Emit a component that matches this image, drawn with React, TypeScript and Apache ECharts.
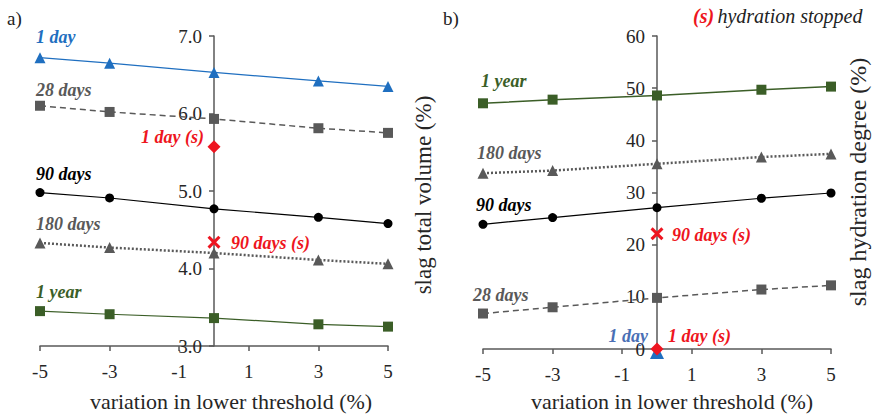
import React, { useEffect, useRef } from 'react';
import * as echarts from 'echarts';

// x positions (variation in lower threshold, %)
const thresholdVariation = [-5, -3, 0, 3, 5];
const xTickMin = -5;
const xTickMax = 5;

// panel a) slag total volume (%)
const volume1Day = [6.72, 6.65, 6.53, 6.42, 6.35];
const volume28Days = [6.1, 6.02, 5.93, 5.81, 5.75];
const volume90Days = [4.98, 4.91, 4.77, 4.66, 4.58];
const volume180Days = [4.33, 4.27, 4.2, 4.11, 4.06];
const volume1Year = [3.45, 3.41, 3.36, 3.28, 3.25];
const volume1DayStopped = 5.57;
const volume90DaysStopped = 4.34;

// panel b) slag hydration degree (%)
const degree1Year = [47.1, 47.8, 48.6, 49.7, 50.3];
const degree180Days = [33.7, 34.2, 35.5, 36.8, 37.4];
const degree90Days = [23.9, 25.2, 27.1, 28.9, 29.9];
const degree28Days = [6.8, 8.0, 9.8, 11.4, 12.2];
const degree1Day = 0;
const degree1DayStopped = 0;
const degree90DaysStopped = 22.1;

const SERIF = 'Liberation Serif';
const BLUE = '#1f6fc0';
const GRAY = '#595959';
const GREEN = '#3b5e27';
const RED = '#ee1520';
const CROSS = 'path://M0,2 L2,0 L6,4 L10,0 L12,2 L8,6 L12,10 L10,12 L6,8 L2,12 L0,10 L4,6 Z';
const GRID_W = 348;

function lbl(text: string, color: string, dx: number, dy: number, align: string) {
  return {
    show: true,
    formatter: text,
    position: ['50%', '50%'],
    offset: [dx, dy],
    align,
    verticalAlign: 'middle',
    color,
    fontFamily: SERIF,
    fontSize: 18,
    fontStyle: 'italic',
    fontWeight: 'bold',
  };
}

function seriesData(values: number[], label: any) {
  return values.map((v, i) => {
    const item: any = { value: [thresholdVariation[i], v] };
    if (i === 0) item.label = label;
    return item;
  });
}

function lineSeries(grid: number, name: string, values: number[], color: string, symbol: string, size: number, lineType: any, width: number, label: any) {
  return {
    type: 'line',
    name,
    xAxisIndex: grid,
    yAxisIndex: grid,
    data: seriesData(values, label),
    symbol,
    symbolSize: size,
    showSymbol: true,
    itemStyle: { color },
    lineStyle: { color, width, type: lineType },
    z: 3,
  };
}

function pointSeries(grid: number, name: string, value: number, color: string, symbol: string, size: number, label: any, z: number, symbolOffset: number[] = [0, 0]) {
  return {
    type: 'line',
    name,
    xAxisIndex: grid,
    yAxisIndex: grid,
    data: [{ value: [0, value], label }],
    symbol,
    symbolSize: size,
    symbolOffset,
    itemStyle: { color },
    lineStyle: { width: 0 },
    z,
  };
}

function xAxisCfg(grid: number) {
  return {
    gridIndex: grid,
    type: 'value',
    min: xTickMin,
    max: xTickMax,
    interval: 2,
    axisLine: { show: true, onZero: false, lineStyle: { color: GRAY, width: 1.5 } },
    axisTick: { show: true, length: 5, lineStyle: { color: GRAY, width: 1.5 } },
    axisLabel: { fontFamily: SERIF, fontSize: 19, color: '#262626', margin: 16 },
    splitLine: { show: false },
  };
}

function yAxisCfg(grid: number, min: number, max: number, interval: number, digits: number) {
  return {
    gridIndex: grid,
    type: 'value',
    position: 'left',
    offset: -GRID_W / 2,
    min,
    max,
    interval,
    axisLine: { show: true, onZero: false, lineStyle: { color: GRAY, width: 1.5 } },
    axisTick: { show: true, length: 5, lineStyle: { color: GRAY, width: 1.5 } },
    axisLabel: {
      fontFamily: SERIF,
      fontSize: 19,
      color: '#262626',
      margin: 12,
      formatter: (v: number) => v.toFixed(digits),
    },
    splitLine: { show: false },
  };
}

export default function App() {
  const ref = useRef<HTMLDivElement>(null);
  useEffect(() => {
    if (!ref.current) return;
    document.body.style.margin = '0';
    const chart = echarts.init(ref.current, null, { renderer: 'svg' });
    chart.setOption({
      animation: false,
      backgroundColor: '#ffffff',
      grid: [
        { left: 40, top: 36, width: GRID_W, height: 310 },
        { left: 483, top: 36, width: GRID_W, height: 313 },
      ],
      xAxis: [xAxisCfg(0), xAxisCfg(1)],
      yAxis: [yAxisCfg(0, 3, 7, 1, 1), yAxisCfg(1, 0, 60, 10, 0)],
      series: [
        lineSeries(0, '1 day', volume1Day, BLUE, 'triangle', 11, 'solid', 1.2, lbl('1 day', BLUE, -4, -21, 'left')),
        lineSeries(0, '28 days', volume28Days, GRAY, 'rect', 10, [6, 4], 1.5, lbl('28 days', GRAY, -4, -16, 'left')),
        lineSeries(0, '90 days', volume90Days, '#000000', 'circle', 9, 'solid', 1.2, lbl('90 days', '#000000', -4, -19, 'left')),
        lineSeries(0, '180 days', volume180Days, GRAY, 'triangle', 11, [2, 2], 2.5, lbl('180 days', GRAY, -4, -19, 'left')),
        lineSeries(0, '1 year', volume1Year, GREEN, 'rect', 10, 'solid', 1.2, lbl('1 year', GREEN, -4, -19, 'left')),
        pointSeries(0, '1 day (s)', volume1DayStopped, RED, 'diamond', 13, lbl('1 day (s)', RED, -10, -10, 'right'), 5),
        pointSeries(0, '90 days (s)', volume90DaysStopped, RED, CROSS, 13, lbl('90 days (s)', RED, 17, 1, 'left'), 5),

        lineSeries(1, '1 year', degree1Year, GREEN, 'rect', 10, 'solid', 1.5, lbl('1 year', GREEN, -2, -22, 'left')),
        lineSeries(1, '180 days', degree180Days, GRAY, 'triangle', 11, [2, 2], 2.5, lbl('180 days', GRAY, -6, -20, 'left')),
        lineSeries(1, '90 days', degree90Days, '#000000', 'circle', 9, 'solid', 1.2, lbl('90 days', '#000000', -7, -19, 'left')),
        lineSeries(1, '28 days', degree28Days, GRAY, 'rect', 10, [6, 4], 1.5, lbl('28 days', GRAY, -10, -19, 'left')),
        pointSeries(1, '1 day', degree1Day, BLUE, 'triangle', 14, lbl('1 day', '#4a6fb5', -9, -16, 'right'), 4, [0, 3]),
        pointSeries(1, '1 day (s)', degree1DayStopped, RED, 'diamond', 13, lbl('1 day (s)', RED, 11, -13, 'left'), 5),
        pointSeries(1, '90 days (s)', degree90DaysStopped, RED, CROSS, 13, lbl('90 days (s)', RED, 15, 1, 'left'), 5),
      ],
      graphic: [
        { type: 'text', x: 7, y: 18, style: { text: 'a)', font: `19px ${SERIF}`, fill: '#222', verticalAlign: 'middle' } },
        { type: 'text', x: 443, y: 18, style: { text: 'b)', font: `19px ${SERIF}`, fill: '#222', verticalAlign: 'middle' } },
        {
          type: 'text', x: 231, y: 401,
          style: { text: 'variation in lower threshold (%)', font: `22px ${SERIF}`, fill: '#262626', align: 'center', verticalAlign: 'middle' },
        },
        {
          type: 'text', x: 672, y: 401,
          style: { text: 'variation in lower threshold (%)', font: `22px ${SERIF}`, fill: '#262626', align: 'center', verticalAlign: 'middle' },
        },
        {
          type: 'text', x: 423, y: 195, rotation: Math.PI / 2,
          style: { text: 'slag total volume (%)', font: `23px ${SERIF}`, fill: '#262626', align: 'center', verticalAlign: 'middle' },
        },
        {
          type: 'text', x: 858, y: 182, rotation: Math.PI / 2,
          style: { text: 'slag hydration degree (%)', font: `24px ${SERIF}`, fill: '#262626', align: 'center', verticalAlign: 'middle' },
        },
        {
          type: 'text', x: 693, y: 16,
          style: {
            text: '{s|(s)} {t|hydration stopped}',
            verticalAlign: 'middle',
            rich: {
              s: { fill: RED, font: `italic bold 20px ${SERIF}` },
              t: { fill: '#222', font: `italic 20px ${SERIF}` },
            },
          },
        },
      ],
    });
    return () => chart.dispose();
  }, []);
  return <div ref={ref} style={{ width: 873, height: 414 }} />;
}
